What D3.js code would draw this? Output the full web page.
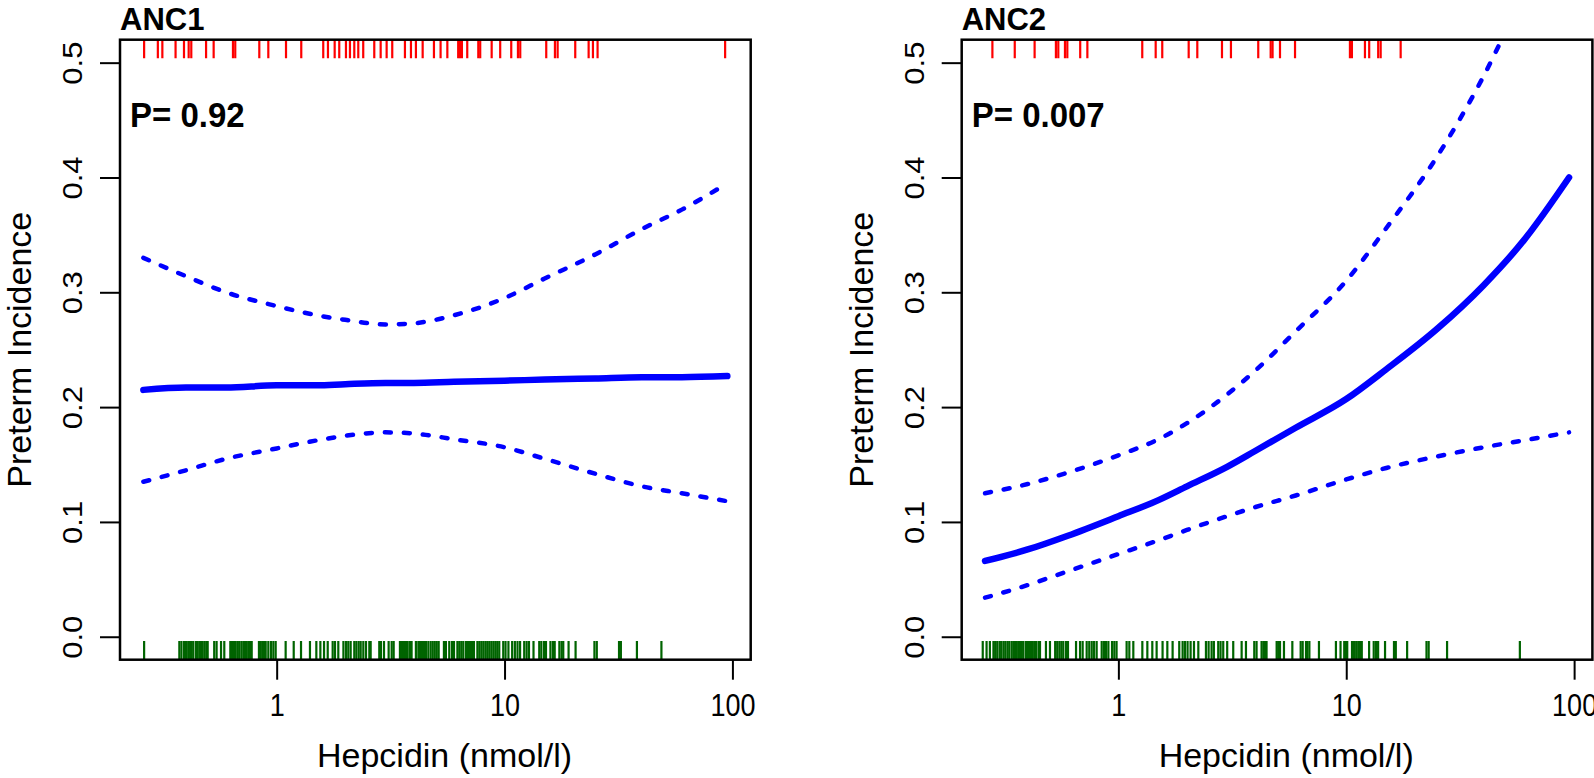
<!DOCTYPE html>
<html><head><meta charset="utf-8">
<script src="https://cdn.jsdelivr.net/npm/d3@7"></script>
<style>body{margin:0;background:#fff;overflow:hidden} svg{display:block}</style>
</head><body><svg id="c" width="1594" height="778"></svg>
<script>
// ---------- data ----------
const xTicks = [1, 10, 100];
const yTicks = [0, 0.1, 0.2, 0.3, 0.4, 0.5];
const panelTitles = ["ANC1", "ANC2"];
const pLabels = ["P= 0.92", "P= 0.007"];
const xLabel = "Hepcidin (nmol/l)";
const yLabel = "Preterm Incidence";

const curveX   = [0.26, 0.4, 0.6, 1, 1.5, 2, 3, 4, 6, 10, 15, 25, 40, 60, 95];
const anc1Fit   = [0.215, 0.217, 0.217, 0.219, 0.219, 0.220, 0.221, 0.221, 0.222, 0.223, 0.224, 0.225, 0.226, 0.226, 0.227];
const anc1Upper = [0.330, 0.314, 0.300, 0.288, 0.280, 0.276, 0.272, 0.273, 0.280, 0.295, 0.312, 0.333, 0.355, 0.372, 0.395];
const anc1Lower = [0.135, 0.145, 0.155, 0.164, 0.171, 0.175, 0.178, 0.177, 0.172, 0.165, 0.155, 0.142, 0.131, 0.125, 0.118];
const anc2Fit   = [0.066, 0.076, 0.088, 0.105, 0.119, 0.131, 0.148, 0.162, 0.182, 0.207, 0.233, 0.268, 0.306, 0.345, 0.400];
const anc2Upper = [0.125, 0.133, 0.143, 0.158, 0.172, 0.186, 0.211, 0.232, 0.266, 0.310, 0.356, 0.418, 0.488, 0.560, 0.640];
const anc2Lower = [0.034, 0.045, 0.057, 0.072, 0.084, 0.093, 0.105, 0.113, 0.123, 0.137, 0.147, 0.157, 0.165, 0.171, 0.178];

// rug: preterm cases (top, red) and term births (bottom, green)
const anc1Events = [0.262, 0.301, 0.315, 0.360, 0.392, 0.411, 0.422, 0.490, 0.529, 0.643, 0.658, 0.839, 0.919, 1.099, 1.282,
  1.601, 1.679, 1.797, 1.882, 2.014, 2.097, 2.191, 2.281, 2.398, 2.681, 2.860, 3.038, 3.215, 3.655, 3.884, 4.084, 4.372,
  4.90, 5.24, 5.61, 6.26, 6.37, 6.50, 6.86, 7.67, 7.82, 8.78, 9.57, 10.70, 11.45, 11.72, 15.24, 16.64, 17.10, 20.43,
  23.39, 24.43, 25.60, 92.9];
const anc1NonEvents = [0.262, 0.374, 0.382, 0.392, 0.400, 0.409, 0.417, 0.424, 0.431, 0.443, 0.450, 0.458, 0.466, 0.473,
  0.482, 0.491, 0.498, 0.532, 0.545, 0.570, 0.589, 0.626, 0.637, 0.650, 0.661, 0.674, 0.685, 0.700, 0.714, 0.726, 0.738,
  0.751, 0.764, 0.777, 0.836, 0.851, 0.865, 0.880, 0.895, 0.919, 0.944, 0.967, 0.990, 1.095, 1.188, 1.279, 1.400, 1.493,
  1.555, 1.614, 1.675, 1.761, 1.803, 1.864, 1.963, 2.015, 2.062, 2.112, 2.191, 2.237, 2.290, 2.337, 2.400, 2.466, 2.550,
  2.585, 2.820, 2.868, 2.958, 3.100, 3.197, 3.262, 3.475, 3.548, 3.622, 3.694, 3.758, 3.846, 3.909, 4.083, 4.185, 4.254,
  4.341, 4.429, 4.519, 4.629, 4.74, 4.84, 4.94, 5.04, 5.14, 5.42, 5.53, 5.72, 5.88, 6.00, 6.21, 6.33, 6.46, 6.59, 6.77,
  6.91, 7.05, 7.20, 7.34, 7.60, 7.75, 7.91, 8.07, 8.24, 8.40, 8.57, 8.75, 8.93, 9.11, 9.29, 9.48, 9.87, 10.1, 10.4, 10.8,
  11.1, 11.4, 11.7, 12.2, 12.5, 12.8, 13.4, 14.2, 14.5, 14.9, 15.2, 15.9, 16.3, 16.6, 17.4, 17.8, 18.1, 19.1, 20.5, 24.8,
  25.4, 31.8, 32.4, 38.1, 48.8];
const anc2Events = [0.280, 0.351, 0.429, 0.532, 0.545, 0.583, 0.597, 0.680, 0.731, 1.273, 1.458, 1.558, 2.035, 2.220,
  2.849, 3.119, 4.110, 4.66, 4.75, 5.12, 5.96, 10.38, 10.59, 12.08, 12.61, 13.81, 14.16, 17.33];
const anc2NonEvents = [0.254, 0.264, 0.273, 0.283, 0.288, 0.294, 0.301, 0.306, 0.313, 0.319, 0.326, 0.332, 0.340, 0.346,
  0.352, 0.358, 0.364, 0.370, 0.377, 0.383, 0.393, 0.401, 0.409, 0.418, 0.427, 0.435, 0.446, 0.453, 0.481, 0.501, 0.528,
  0.539, 0.551, 0.562, 0.573, 0.589, 0.601, 0.652, 0.679, 0.697, 0.726, 0.745, 0.764, 0.782, 0.803, 0.845, 0.865, 0.883,
  0.904, 0.938, 0.960, 0.982, 1.087, 1.117, 1.163, 1.274, 1.340, 1.409, 1.472, 1.563, 1.640, 1.730, 1.850, 1.914, 1.959,
  2.012, 2.075, 2.147, 2.243, 2.423, 2.489, 2.565, 2.625, 2.743, 2.808, 2.885, 3.003, 3.192, 3.475, 3.630, 3.948, 4.041,
  4.25, 4.33, 4.40, 4.47, 4.95, 5.03, 5.12, 5.33, 5.80, 6.31, 6.44, 6.66, 6.75, 6.89, 7.59, 9.01, 9.44, 9.80, 9.97, 10.1,
  10.6, 10.7, 10.9, 11.1, 11.3, 11.5, 11.7, 12.6, 13.2, 13.5, 13.8, 14.8, 16.2, 16.5, 18.5, 22.5, 23.0, 27.7, 57.8];

// ---------- layout ----------
const panels = [
  {title: panelTitles[0], p: pLabels[0], fit: anc1Fit, upper: anc1Upper, lower: anc1Lower, ev: anc1Events, non: anc1NonEvents},
  {title: panelTitles[1], p: pLabels[1], fit: anc2Fit, upper: anc2Upper, lower: anc2Lower, ev: anc2Events, non: anc2NonEvents}
];
const panelDX = 841.7;
const L = 120, R = 750.7, T = 39.7, B = 659.7;
const FONT = "'Liberation Sans', Arial, Helvetica, sans-serif";
const STRETCH = 1.15;

const svg = d3.select("#c");
const lx = d3.extent(curveX).map(Math.log10);
const pad = (lx[1] - lx[0]) * 0.04;
const x = d3.scaleLog().domain([10 ** (lx[0] - pad), 10 ** (lx[1] + pad)]).range([L, R]);
const y = d3.scaleLinear().domain([-0.02, 0.52]).range([B, T]);
const rugLen = (B - T) * 0.03;

panels.forEach((pd, i) => {
  const g = svg.append("g").attr("transform", `translate(${i * panelDX},0)`);
  const clipId = "clip" + i;
  g.append("clipPath").attr("id", clipId).append("rect")
    .attr("x", L).attr("y", T).attr("width", R - L).attr("height", B - T);
  const plot = g.append("g").attr("clip-path", `url(#${clipId})`);

  const line = d3.line().x((d, k) => x(curveX[k])).y(d => y(d)).curve(d3.curveMonotoneX);

  // rugs
  plot.selectAll("line.ev").data(pd.ev).join("line").attr("class", "ev")
    .attr("x1", d => x(d)).attr("x2", d => x(d)).attr("y1", T).attr("y2", T + rugLen)
    .attr("stroke", "#FF0000").attr("stroke-width", 2.2);
  plot.selectAll("line.non").data(pd.non).join("line").attr("class", "non")
    .attr("x1", d => x(d)).attr("x2", d => x(d)).attr("y1", B).attr("y2", B - rugLen)
    .attr("stroke", "#006400").attr("stroke-width", 2.2);

  // CI and fit
  [pd.upper, pd.lower].forEach(arr => {
    plot.append("path").attr("d", line(arr)).attr("fill", "none").attr("stroke", "#0000FF")
      .attr("stroke-width", 4.5).attr("stroke-linecap", "round").attr("stroke-dasharray", "6,13");
  });
  plot.append("path").attr("d", line(pd.fit)).attr("fill", "none").attr("stroke", "#0000FF")
    .attr("stroke-width", 6.5).attr("stroke-linecap", "round").attr("stroke-linejoin", "round");

  // axes
  const ax = g.append("g").attr("transform", `translate(0,${B})`)
    .call(d3.axisBottom(x).tickValues(xTicks).tickFormat(d3.format("d")).tickSize(20).tickSizeOuter(0));
  ax.select(".domain").remove();
  ax.selectAll(".tick line").attr("stroke", "#000").attr("stroke-width", 2);
  ax.selectAll(".tick text").attr("y", 0).attr("dy", 0).attr("fill", "#000")
    .attr("transform", `translate(0,56) scale(1,${STRETCH})`)
    .style("font-family", FONT).style("font-size", "27px");

  const ay = g.append("g").attr("transform", `translate(${L},0)`)
    .call(d3.axisLeft(y).tickValues(yTicks).tickFormat(d3.format(".1f")).tickSize(20).tickSizeOuter(0));
  ay.select(".domain").remove();
  ay.selectAll(".tick line").attr("stroke", "#000").attr("stroke-width", 2);
  ay.selectAll(".tick text").attr("x", 0).attr("dy", 0).attr("text-anchor", "middle")
    .attr("transform", `translate(-38,0) rotate(-90) scale(${STRETCH},1)`).attr("fill", "#000")
    .style("font-family", FONT).style("font-size", "27px");

  // box
  g.append("rect").attr("x", L).attr("y", T).attr("width", R - L).attr("height", B - T)
    .attr("fill", "none").attr("stroke", "#000").attr("stroke-width", 2.5);

  // texts
  g.append("text").attr("x", L).attr("y", 30).text(pd.title)
    .style("font-family", FONT).style("font-size", "31px").style("font-weight", "bold");
  g.append("text").attr("transform", `translate(${L + 10},127) scale(1,1.08)`).text(pd.p)
    .style("font-family", FONT).style("font-size", "33px").style("font-weight", "bold");
  g.append("text").attr("x", 444.5).attr("y", 767).attr("text-anchor", "middle").text(xLabel)
    .style("font-family", FONT).style("font-size", "34px");
  g.append("text").attr("transform", `translate(31,${(T + B) / 2}) rotate(-90)`).attr("text-anchor", "middle")
    .text(yLabel).style("font-family", FONT).style("font-size", "34px");
});
</script></body></html>
